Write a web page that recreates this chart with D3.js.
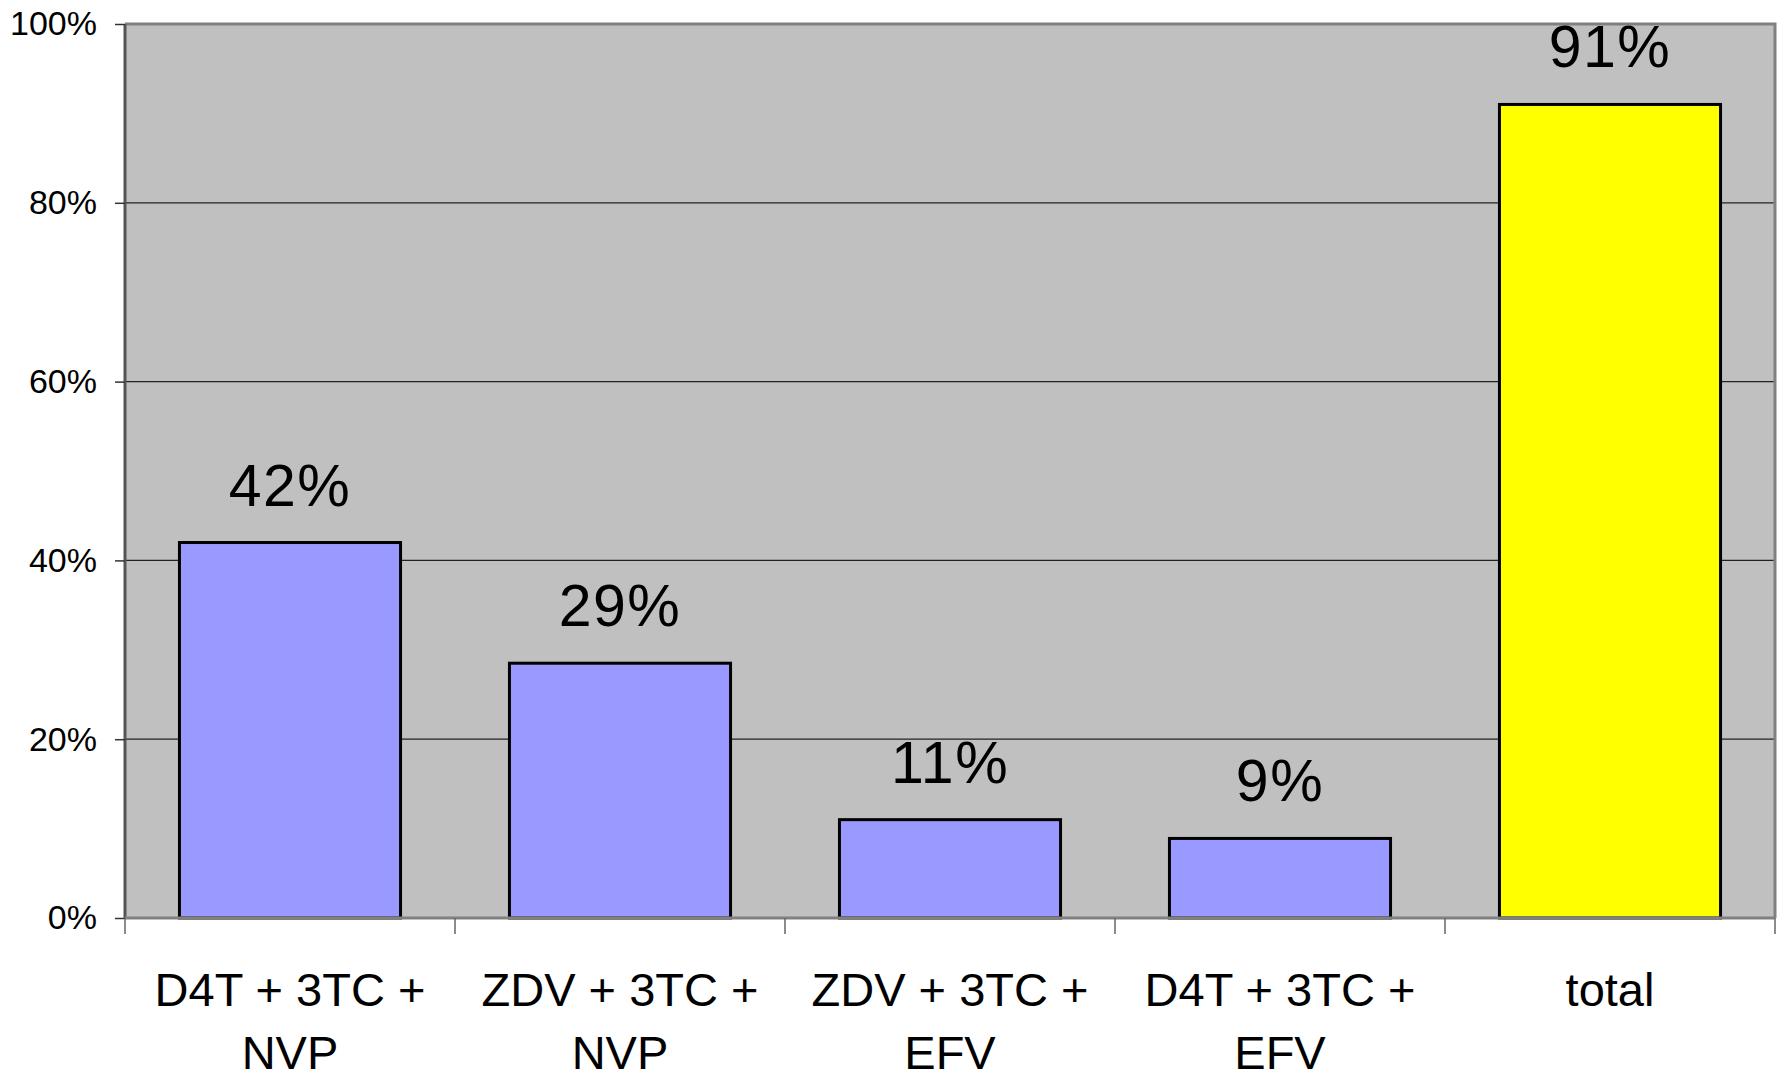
<!DOCTYPE html>
<html>
<head>
<meta charset="utf-8">
<script src="https://cdn.jsdelivr.net/npm/d3@7"></script>
<style>
  body { margin: 0; background: #fff; }
  svg { display: block; font-family: "Liberation Sans", Arial, sans-serif; }
</style>
</head>
<body>
<div id="chart"></div>
<script>
var categories = [['D4T + 3TC +', 'NVP'], ['ZDV + 3TC +', 'NVP'], ['ZDV + 3TC +', 'EFV'], ['D4T + 3TC +', 'EFV'], ['total']];
var values = [42, 28.5, 11, 8.9, 91];
var valueLabels = ['42%', '29%', '11%', '9%', '91%'];
var barColors = ['#9999ff', '#9999ff', '#9999ff', '#9999ff', '#ffff00'];
var yTicks = [0, 20, 40, 60, 80, 100];

var W = 1782, H = 1070;
var mLeft = 125, mRight = 1775, mTop = 24, mBottom = 918;

var svg = d3.select('#chart').append('svg')
    .attr('width', W).attr('height', H);

var x = d3.scaleBand().domain(d3.range(categories.length)).range([mLeft, mRight]).padding(0);
var y = d3.scaleLinear().domain([0, 100]).range([mBottom, mTop]);

// plot area
svg.append('rect')
    .attr('x', mLeft).attr('y', mTop)
    .attr('width', mRight - mLeft).attr('height', mBottom - mTop)
    .attr('fill', '#c0c0c0');

// gridlines
svg.selectAll('line.grid')
    .data(yTicks.filter(function(d){ return d > 0 && d < 100; }))
    .enter().append('line')
    .attr('class', 'grid')
    .attr('x1', mLeft).attr('x2', mRight)
    .attr('y1', function(d){ return y(d); })
    .attr('y2', function(d){ return y(d); })
    .attr('stroke', '#222').attr('stroke-width', 1.2);

// plot border (top/right gray)
svg.append('path')
    .attr('d', 'M' + mLeft + ',' + mTop + 'H' + mRight + 'V' + mBottom)
    .attr('fill', 'none').attr('stroke', '#808080').attr('stroke-width', 3);

// bars
var bw = x.bandwidth() * 0.67;
svg.selectAll('rect.bar')
    .data(values)
    .enter().append('rect')
    .attr('class', 'bar')
    .attr('x', function(d, i){ return x(i) + (x.bandwidth() - bw) / 2; })
    .attr('y', function(d){ return y(d); })
    .attr('width', bw)
    .attr('height', function(d){ return mBottom - y(d); })
    .attr('fill', function(d, i){ return barColors[i]; })
    .attr('stroke', '#000').attr('stroke-width', 3);

// value labels
svg.selectAll('text.val')
    .data(values)
    .enter().append('text')
    .attr('class', 'val')
    .attr('x', function(d, i){ return x(i) + x.bandwidth() / 2; })
    .attr('y', function(d){ return y(d) - 37; })
    .attr('text-anchor', 'middle')
    .attr('font-size', 59)
    .attr('letter-spacing', 1.5)
    .attr('fill', '#000')
    .text(function(d, i){ return valueLabels[i]; });

// y axis
var yAxis = svg.append('g')
    .attr('transform', 'translate(' + mLeft + ',0)')
    .call(d3.axisLeft(y).tickValues(yTicks).tickSize(10).tickPadding(18)
        .tickFormat(function(d){ return d + '%'; }));
yAxis.selectAll('text').attr('font-size', 34).attr('fill', '#000')
    .attr('font-family', '"Liberation Sans", Arial, sans-serif');
yAxis.selectAll('line').attr('stroke', '#333').attr('stroke-width', 1.5);
yAxis.select('.domain').attr('stroke', '#555').attr('stroke-width', 3)
    .attr('d', 'M0,' + mTop + 'V' + mBottom);

// x axis
var xAxis = svg.append('g')
    .attr('transform', 'translate(0,' + mBottom + ')');
xAxis.append('line')
    .attr('x1', mLeft).attr('x2', mRight)
    .attr('stroke', '#808080').attr('stroke-width', 3);
xAxis.selectAll('line.tick')
    .data(d3.range(categories.length + 1))
    .enter().append('line')
    .attr('class', 'tick')
    .attr('x1', function(d){ return d < categories.length ? x(d) : mRight; })
    .attr('x2', function(d){ return d < categories.length ? x(d) : mRight; })
    .attr('y1', 0).attr('y2', 16)
    .attr('stroke', '#666').attr('stroke-width', 1.5);

var lab = xAxis.selectAll('text.cat')
    .data(categories)
    .enter().append('text')
    .attr('class', 'cat')
    .attr('text-anchor', 'middle')
    .attr('font-size', 47)
    .attr('fill', '#000');
lab.selectAll('tspan')
    .data(function(d, i){ return d.map(function(t){ return { t: t, i: i }; }); })
    .enter().append('tspan')
    .attr('x', function(d){ return x(d.i) + x.bandwidth() / 2; })
    .attr('y', function(d, j){ return 88 + j * 63; })
    .text(function(d){ return d.t; });
</script>
</body>
</html>
